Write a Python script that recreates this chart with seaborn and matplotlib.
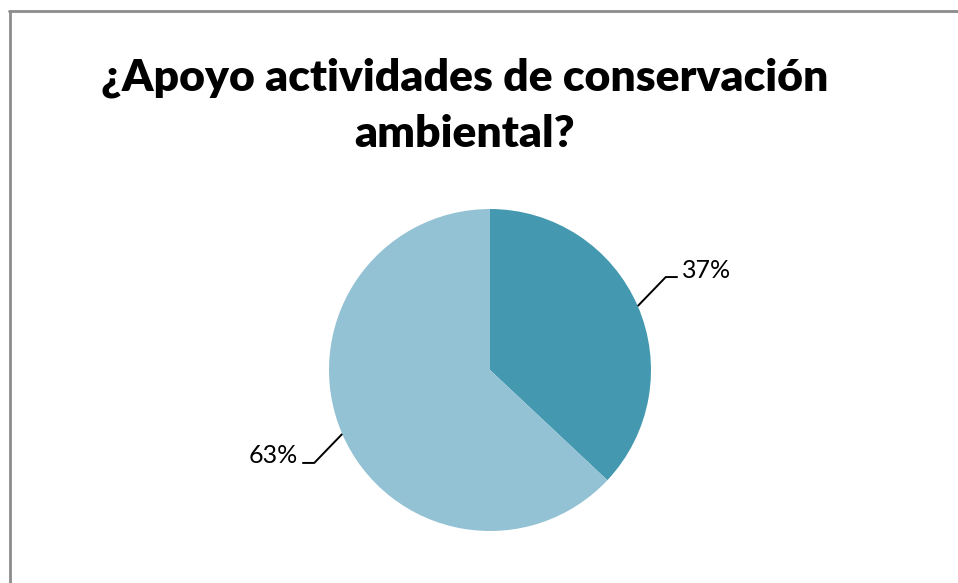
import numpy as np
import matplotlib
matplotlib.use("Agg")
import matplotlib.pyplot as plt
import seaborn as sns

# Data
categories = ["Sí", "No"]
shares = [37, 63]
labels = ["37%", "63%"]
colors = ["#4499B0", "#93C2D4"]
title_lines = ["¿Apoyo actividades de conservación", "ambiental?"]

sns.set_theme(style="white")
plt.rcParams["font.family"] = ["Lato", "DejaVu Sans"]

W, H = 958, 583
fig = plt.figure(figsize=(W / 100, H / 100), dpi=100)
ax = fig.add_axes([0, 0, 1, 1])

# pie in pixel space (y up)
cx, cy, r = 490, H - 370, 161
wedges, _ = ax.pie(shares, colors=colors, startangle=90, counterclock=False,
                   center=(cx, cy), radius=r,
                   wedgeprops=dict(linewidth=0))
ax.set_xlim(0, W)
ax.set_ylim(0, H)
ax.set_aspect("equal")
ax.axis("off")

# data labels with leader lines
for w, lab in zip(wedges, labels):
    mid = np.deg2rad((w.theta1 + w.theta2) / 2)
    ex, ey = cx + r * np.cos(mid), cy + r * np.sin(mid)
    sx = np.sign(np.cos(mid))
    sy = np.sign(np.sin(mid))
    kx, ky = ex + sx * 28, ey + sy * 29
    hx = kx + sx * 12
    ax.plot([ex, kx, hx], [ey, ky, ky], color="black", lw=1.4,
            solid_capstyle="butt")
    ax.text(hx + sx * 4, ky + 7, lab, fontsize=18,
            ha="left" if sx > 0 else "right", va="center", color="black")

# title (two centred lines)
for line, base in zip(title_lines, [90, 147]):
    ax.text(465, H - base, line, ha="center", va="baseline",
            fontsize=32, fontweight="heavy", color="black")

# chart border (top and left edges visible)
ax.plot([10, 10], [0, H - 11], color="#8c8c8c", lw=2)
ax.plot([9, W], [H - 11, H - 11], color="#8c8c8c", lw=2)

fig.savefig("out.png", dpi=100, facecolor="white")
